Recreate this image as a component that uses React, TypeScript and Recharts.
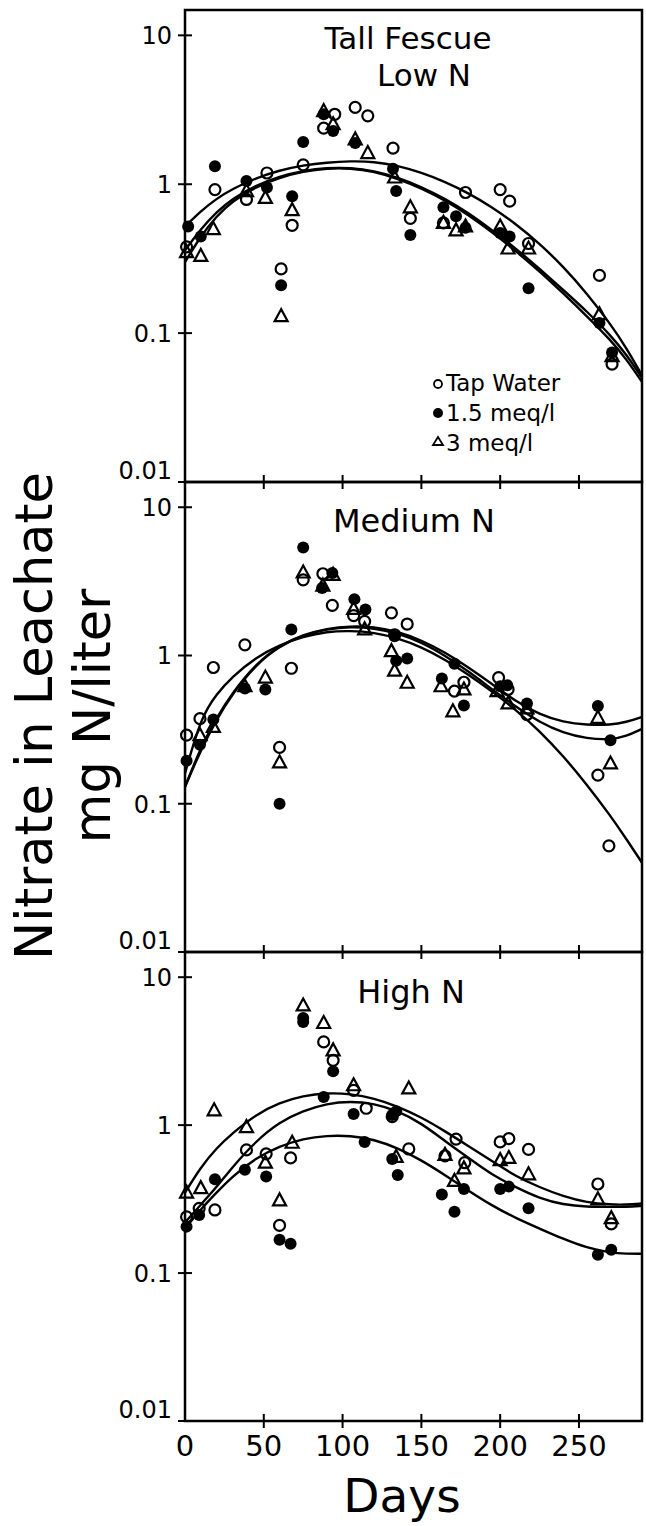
import { ComposedChart, Line, Scatter, XAxis, YAxis, ReferenceArea } from "recharts";

const FONT = "DejaVu Sans, sans-serif";
const W = 646;

// axes
const xTicks = [0, 50, 100, 150, 200, 250];
const yTicks = [0.01, 0.1, 1, 10];
const yLabels: Record<string, string> = { "0.01": "0.01", "0.1": "0.1", "1": "1", "10": "10" };

const fitDays = [0, 10, 20, 30, 45, 60, 75, 90, 105, 120, 135, 150, 165, 180, 195, 210, 225, 240, 255, 270, 280, 290];

// ---- Low N ----
const lowTap = [
  [1, 0.38], [19, 0.92], [39, 0.79], [52, 1.19], [61, 0.27], [68, 0.53], [75, 1.35], [88, 2.38], [95, 2.95],
  [108, 3.28], [116, 2.88], [132, 1.75], [143, 0.59], [164, 0.55], [178, 0.88], [200, 0.92], [206, 0.77],
  [218, 0.4], [263, 0.244], [271, 0.062],
];
const lowMid = [
  [2, 0.52], [10, 0.445], [19, 1.32], [39, 1.05], [52, 0.95], [61, 0.21], [68, 0.83], [75, 1.92], [88, 2.95],
  [94, 2.28], [108, 1.89], [132, 1.27], [134, 0.9], [143, 0.456], [164, 0.7], [172, 0.61], [178, 0.51],
  [200, 0.47], [206, 0.445], [218, 0.2], [263, 0.117], [271, 0.074],
];
const lowHigh = [
  [1, 0.35], [10, 0.33], [18, 0.5], [39, 0.9], [51, 0.81], [61, 0.13], [68, 0.67], [88, 3.1], [94, 2.53],
  [108, 2.0], [116, 1.62], [133, 1.11], [143, 0.7], [164, 0.55], [172, 0.49], [178, 0.52], [200, 0.52],
  [205, 0.37], [218, 0.37], [263, 0.134], [271, 0.07],
];
const lowFitA = [0.52, 0.66, 0.8, 0.93, 1.1, 1.24, 1.34, 1.4, 1.43, 1.42, 1.33, 1.2, 1.04, 0.87, 0.7, 0.54, 0.4, 0.28, 0.185, 0.115, 0.08, 0.052];
const lowFitB = [0.36, 0.5, 0.65, 0.8, 0.98, 1.13, 1.23, 1.29, 1.29, 1.23, 1.11, 0.96, 0.8, 0.64, 0.49, 0.37, 0.27, 0.195, 0.14, 0.097, 0.072, 0.05];
const lowFitC = [0.3, 0.45, 0.61, 0.77, 0.96, 1.11, 1.22, 1.28, 1.28, 1.22, 1.09, 0.94, 0.78, 0.62, 0.475, 0.355, 0.26, 0.185, 0.13, 0.09, 0.067, 0.047];

// ---- Medium N ----
const medTap = [
  [1, 0.29], [9.5, 0.375], [18, 0.83], [38, 1.18], [60, 0.24], [67.5, 0.82], [75, 3.24], [87.5, 3.56],
  [93.5, 2.18], [107, 1.86], [114, 1.7], [131, 1.94], [133, 1.38], [141, 1.63], [171, 0.575], [177, 0.66],
  [199, 0.71], [205, 0.59], [217, 0.4], [262, 0.156], [269, 0.052],
];
const medMid = [
  [1, 0.195], [9.5, 0.25], [18, 0.37], [38, 0.6], [51, 0.59], [60, 0.1], [67.5, 1.5], [75, 5.35], [87, 2.85],
  [93.5, 3.6], [107.5, 2.4], [114.5, 2.04], [133, 1.35], [134, 0.92], [141, 0.955], [163, 0.7], [171, 0.88],
  [177, 0.46], [200, 0.62], [204.5, 0.63], [217, 0.475], [262, 0.456], [270, 0.268],
];
const medHigh = [
  [9.5, 0.29], [18, 0.33], [38, 0.62], [51, 0.71], [60, 0.19], [75, 3.63], [87.5, 2.96], [94, 3.5],
  [107, 2.06], [114, 1.5], [131, 1.07], [133, 0.79], [141, 0.655], [162.5, 0.62], [170, 0.42], [177, 0.59],
  [198, 0.575], [205, 0.475], [217, 0.44], [262, 0.38], [270, 0.187],
];
const medFitA = [0.13, 0.24, 0.38, 0.56, 0.88, 1.17, 1.38, 1.52, 1.58, 1.56, 1.45, 1.27, 1.05, 0.83, 0.64, 0.49, 0.4, 0.355, 0.34, 0.34, 0.355, 0.385];
const medFitB = [0.13, 0.23, 0.37, 0.55, 0.87, 1.16, 1.37, 1.51, 1.56, 1.53, 1.41, 1.23, 1.0, 0.78, 0.59, 0.45, 0.355, 0.3, 0.275, 0.27, 0.285, 0.32];
const medFitC = [0.16, 0.38, 0.55, 0.72, 0.97, 1.18, 1.34, 1.45, 1.47, 1.43, 1.31, 1.14, 0.94, 0.74, 0.57, 0.43, 0.31, 0.21, 0.135, 0.083, 0.058, 0.04];

// ---- High N ----
const highTap = [
  [1, 0.24], [9, 0.274], [19, 0.267], [39, 0.68], [51.5, 0.64], [60, 0.21], [67, 0.6], [88, 3.65], [94, 2.74],
  [107, 1.72], [115, 1.3], [131.5, 1.14], [142, 0.69], [165, 0.62], [172, 0.805], [177.5, 0.557], [200, 0.77],
  [205.5, 0.81], [218, 0.685], [262, 0.4], [270.5, 0.215],
];
const highMid = [
  [1, 0.206], [9, 0.247], [19, 0.43], [38, 0.5], [51.5, 0.45], [60, 0.168], [67, 0.158], [75, 4.97], [75, 5.3],
  [88, 1.55], [94, 2.31], [107, 1.19], [114, 0.77], [131.5, 1.17], [134, 1.24], [131.5, 0.59], [135, 0.46],
  [163, 0.34], [171, 0.26], [177, 0.37], [200, 0.37], [205.5, 0.384], [218, 0.274], [262, 0.133], [270.5, 0.144],
];
const highHigh = [
  [1, 0.35], [10, 0.375], [18.5, 1.26], [39, 0.97], [51, 0.557], [60, 0.31], [68, 0.76], [75, 6.44], [88, 4.9],
  [94, 3.2], [107, 1.86], [134, 0.61], [142, 1.77], [165, 0.63], [171, 0.42], [177, 0.51], [200, 0.58],
  [205.5, 0.6], [218, 0.465], [262, 0.315], [270.5, 0.235],
];
const highFitA = [0.35, 0.52, 0.7, 0.88, 1.18, 1.42, 1.58, 1.65, 1.63, 1.52, 1.34, 1.13, 0.91, 0.72, 0.57, 0.45, 0.38, 0.33, 0.3, 0.29, 0.29, 0.295];
const highFitB = [0.22, 0.29, 0.38, 0.52, 0.78, 1.05, 1.25, 1.4, 1.45, 1.4, 1.25, 1.03, 0.78, 0.6, 0.46, 0.38, 0.32, 0.29, 0.28, 0.28, 0.28, 0.285];
const highFitC = [0.2, 0.27, 0.35, 0.45, 0.6, 0.72, 0.81, 0.85, 0.85, 0.8, 0.7, 0.58, 0.46, 0.36, 0.285, 0.235, 0.2, 0.17, 0.148, 0.137, 0.135, 0.135];

const toPts = (arr: number[][]) => arr.map(([day, v]) => ({ day, v }));
const toCurve = (vals: number[]) => fitDays.map((day, i) => ({ day, v: vals[i] }));

const OpenCircle = (p: any) => <circle cx={p.cx} cy={p.cy} r={5.5} fill="none" stroke="#000" strokeWidth={2.2} />;
const FilledCircle = (p: any) => <circle cx={p.cx} cy={p.cy} r={6} fill="#000" />;
const OpenTriangle = (p: any) => (
  <polygon
    points={`${p.cx},${p.cy - 7} ${p.cx - 6.5},${p.cy + 5} ${p.cx + 6.5},${p.cy + 5}`}
    fill="none"
    stroke="#000"
    strokeWidth={2.2}
  />
);

const XTick = (p: any) => (
  <g>
    {p.payload.value > 0 && <line x1={p.x} x2={p.x} y1={p.y - 7} y2={p.y + 7} stroke="#000" strokeWidth={2} />}
    {p.showLabel && (
      <text x={p.x} y={p.y + 35} textAnchor="middle" fontSize={29} fontFamily={FONT} fill="#000">
        {p.payload.value}
      </text>
    )}
  </g>
);

const YTick = (p: any) => {
  const v = p.payload.value;
  const dy = v === 0.01 ? -3 : 9;
  return (
    <g>
      <line x1={p.x - 7} x2={p.x + 7} y1={p.y} y2={p.y} stroke="#000" strokeWidth={2} />
      <text x={p.x - 13} y={p.y + dy} textAnchor="end" fontSize={24} fontFamily={FONT} fill="#000">
        {yLabels[String(v)]}
      </text>
    </g>
  );
};

interface PanelProps {
  top: number;
  height: number;
  bottom: number;
  tap: number[][];
  mid: number[][];
  high: number[][];
  fits: number[][];
  showXLabels?: boolean;
}

const Panel = ({ top, height, bottom, tap, mid, high, fits, showXLabels = false }: PanelProps) => (
  <div style={{ position: "absolute", left: 0, top, width: W, height }}>
    <ComposedChart width={W} height={height} margin={{ top: 10, right: 4, bottom: bottom - 1, left: 184 }}>
      <XAxis
        dataKey="day"
        type="number"
        domain={[0, 290]}
        ticks={xTicks}
        interval={0}
        tickSize={0}
        tickMargin={0}
        axisLine={false}
        tickLine={false}
        height={1}
        tick={(p: any) => <XTick {...p} showLabel={showXLabels} />}
      />
      <YAxis
        dataKey="v"
        type="number"
        scale="log"
        domain={[0.01, 14.8]}
        ticks={yTicks}
        interval={0}
        tickSize={0}
        tickMargin={0}
        axisLine={false}
        tickLine={false}
        width={1}
        tick={(p: any) => <YTick {...p} />}
      />
      <ReferenceArea x1={0} x2={290} y1={0.01} y2={14.8} fill="none" stroke="#000" strokeWidth={2.5} ifOverflow="visible" />
      {fits.map((f, i) => (
        <Line
          key={i}
          data={toCurve(f)}
          dataKey="v"
          type="basis"
          stroke="#000"
          strokeWidth={2.4}
          dot={false}
          activeDot={false}
          isAnimationActive={false}
        />
      ))}
      <Scatter data={toPts(tap)} dataKey="v" shape={OpenCircle} isAnimationActive={false} />
      <Scatter data={toPts(high)} dataKey="v" shape={OpenTriangle} isAnimationActive={false} />
      <Scatter data={toPts(mid)} dataKey="v" shape={FilledCircle} isAnimationActive={false} />
    </ComposedChart>
  </div>
);

export default function App() {
  return (
    <div style={{ position: "absolute", left: 0, top: 0, width: W, height: 1526, background: "#fff" }}>
      <Panel top={0} height={500} bottom={18} tap={lowTap} mid={lowMid} high={lowHigh} fits={[lowFitA, lowFitB, lowFitC]} />
      <Panel top={472} height={500} bottom={20} tap={medTap} mid={medMid} high={medHigh} fits={[medFitA, medFitB, medFitC]} />
      <Panel top={942} height={584} bottom={105} tap={highTap} mid={highMid} high={highHigh} fits={[highFitA, highFitB, highFitC]} showXLabels />
      <svg
        width={W}
        height={1526}
        style={{ position: "absolute", left: 0, top: 0, pointerEvents: "none" }}
        fontFamily={FONT}
      >
        <text x={408} y={49} textAnchor="middle" fontSize={31}>Tall Fescue</text>
        <text x={424} y={86} textAnchor="middle" fontSize={31}>Low N</text>
        <text x={414} y={532} textAnchor="middle" fontSize={32}>Medium N</text>
        <text x={411} y={1003} textAnchor="middle" fontSize={32}>High N</text>

        <circle cx={438} cy={384} r={4} fill="none" stroke="#000" strokeWidth={1.8} />
        <text x={446} y={391} fontSize={23}>Tap Water</text>
        <circle cx={438} cy={413} r={5} fill="#000" />
        <text x={446} y={421} fontSize={23}>1.5 meq/l</text>
        <polygon points="438,437 433,445 443,445" fill="none" stroke="#000" strokeWidth={1.8} />
        <text x={446} y={451} fontSize={23}>3 meq/l</text>

        <text x={402} y={1512} textAnchor="middle" fontSize={47}>Days</text>
        <text x={52} y={716} transform="rotate(-90 52 716)" textAnchor="middle" fontSize={51}>
          Nitrate in Leachate
        </text>
        <text x={110} y={716} transform="rotate(-90 110 716)" textAnchor="middle" fontSize={51}>
          mg N/liter
        </text>
      </svg>
    </div>
  );
}
